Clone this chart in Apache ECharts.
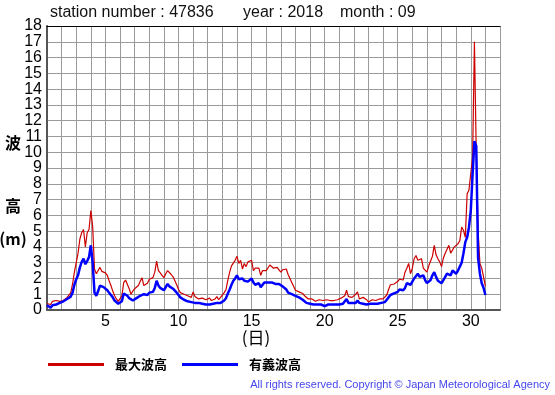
<!DOCTYPE html>
<html><head><meta charset="utf-8">
<script src="https://cdn.jsdelivr.net/npm/echarts@6/dist/echarts.min.js"></script>
<style>html,body{margin:0;padding:0;background:#fff}#c{width:555px;height:395px}</style>
</head><body><div id="c"></div>
<script>
const stationNumber = '47836';
const yearText = '2018';
const monthText = '09';
const seriesNames = ['最大波高', '有義波高'];
const startDay = 1;
const samplesPerDay = 8;
const xLabelDays = [5, 10, 15, 20, 25, 30];
const yTickLabels = ['0','1','2','3','4','5','6','7','8','9','10','11','12','13','14','15','16','17','18'];

// 最大波高 (m), 3-hourly from day 1 00h to day 31 00h
const maxWave = [
  0.40, 0.50, 0.35, 0.55, 0.45, 0.60, 0.50, 0.55,
  0.65, 0.60, 0.70, 0.80, 0.95, 1.10, 1.65, 2.40,
  3.00, 3.60, 4.50, 4.90, 5.10, 4.00, 4.90, 5.10,
  6.30, 5.30, 2.60, 2.30, 2.50, 2.70, 2.45, 2.35,
  2.35, 2.20, 1.85, 1.55, 1.20, 0.90, 0.70, 0.55,
  0.50, 0.90, 1.75, 1.90, 1.85, 1.35, 1.00, 1.20,
  1.35, 1.45, 1.55, 1.80, 2.05, 1.55, 1.60, 1.70,
  1.95, 1.90, 2.05, 2.40, 3.10, 2.50, 2.35, 2.20,
  2.05, 2.30, 2.50, 2.45, 2.25, 2.10, 1.85, 1.60,
  1.30, 1.10, 1.05, 1.00, 0.95, 0.90, 0.85, 0.80,
  1.15, 0.85, 0.75, 0.70, 0.65, 0.75, 0.70, 0.65,
  0.55, 0.75, 0.60, 0.55, 0.70, 0.85, 0.65, 0.80,
  0.95, 1.10, 1.30, 1.90, 2.40, 2.80, 2.90, 3.15,
  3.40, 2.95, 3.15, 2.60, 2.95, 2.75, 3.05, 3.10,
  3.15, 2.50, 2.65, 2.70, 2.65, 2.20, 2.50, 2.45,
  2.50, 2.55, 2.85, 2.95, 2.65, 2.75, 2.70, 2.55,
  2.40, 2.55, 2.45, 2.60, 2.25, 2.00, 1.75, 1.50,
  1.25, 1.20, 1.15, 1.10, 1.05, 0.90, 0.80, 0.70,
  0.60, 0.70, 0.75, 0.55, 0.50, 0.65, 0.70, 0.60,
  0.50, 0.65, 0.65, 0.60, 0.55, 0.60, 0.55, 0.65,
  0.65, 0.75, 0.75, 0.90, 1.25, 0.85, 0.75, 0.80,
  0.85, 1.00, 1.15, 0.70, 0.65, 0.80, 0.85, 0.65,
  0.50, 0.60, 0.65, 0.65, 0.60, 0.65, 0.70, 0.70,
  0.70, 0.80, 0.95, 1.30, 1.60, 1.70, 1.65, 1.60,
  1.80, 1.95, 2.00, 1.90, 2.40, 2.65, 2.95, 2.30,
  2.65, 3.25, 3.45, 3.15, 3.15, 3.25, 2.65, 2.55,
  2.40, 2.80, 3.10, 3.40, 4.10, 3.50, 3.25, 3.05,
  2.75, 3.30, 3.60, 3.85, 4.10, 3.60, 3.60, 4.00,
  4.10, 4.20, 4.40, 5.25, 5.05, 4.60, 7.35, 7.60,
  8.65, 9.70, 17.00, 10.00, 5.05, 2.95, 2.65, 2.10,
  1.50
];

// 有義波高 (m), same sampling
const sigWave = [
  0.30, 0.20, 0.15, 0.30, 0.40, 0.35, 0.40, 0.45,
  0.50, 0.55, 0.65, 0.70, 0.70, 0.85, 1.10, 1.60,
  1.95, 2.20, 2.70, 3.05, 3.25, 2.90, 3.10, 3.35,
  4.10, 3.00, 1.10, 0.90, 1.20, 1.55, 1.60, 1.45,
  1.35, 1.25, 1.10, 0.95, 0.80, 0.60, 0.50, 0.40,
  0.40, 0.55, 1.05, 1.10, 0.90, 0.75, 0.65, 0.60,
  0.60, 0.75, 0.85, 0.90, 0.95, 1.00, 0.90, 0.95,
  1.10, 1.10, 1.15, 1.40, 1.85, 1.55, 1.40, 1.30,
  1.25, 1.45, 1.65, 1.50, 1.45, 1.35, 1.25, 1.10,
  0.95, 0.80, 0.75, 0.65, 0.60, 0.55, 0.50, 0.50,
  0.50, 0.45, 0.50, 0.45, 0.40, 0.40, 0.35, 0.35,
  0.30, 0.35, 0.40, 0.40, 0.45, 0.45, 0.50, 0.45,
  0.50, 0.60, 0.75, 1.05, 1.30, 1.60, 1.85, 2.00,
  2.20, 1.95, 1.90, 2.00, 1.85, 1.75, 1.80, 1.90,
  2.00, 1.75, 1.60, 1.70, 1.70, 1.45, 1.55, 1.75,
  1.80, 1.75, 1.70, 1.75, 1.70, 1.65, 1.70, 1.65,
  1.60, 1.50, 1.40, 1.30, 1.10, 1.05, 1.00, 0.95,
  0.90, 0.85, 0.80, 0.75, 0.65, 0.55, 0.45, 0.45,
  0.40, 0.40, 0.35, 0.30, 0.35, 0.40, 0.35, 0.30,
  0.25, 0.30, 0.35, 0.30, 0.35, 0.40, 0.35, 0.40,
  0.35, 0.40, 0.40, 0.50, 0.70, 0.45, 0.40, 0.45,
  0.45, 0.45, 0.60, 0.45, 0.40, 0.40, 0.40, 0.35,
  0.35, 0.40, 0.40, 0.40, 0.40, 0.40, 0.40, 0.45,
  0.45, 0.50, 0.65, 0.80, 0.95, 1.00, 1.05, 1.10,
  1.15, 1.30, 1.35, 1.25, 1.40, 1.70, 1.65, 1.60,
  1.80, 2.00, 2.10, 2.30, 2.10, 2.15, 2.20, 1.90,
  1.70, 1.80, 1.90, 2.20, 2.40, 2.10, 1.85, 1.80,
  1.70, 1.90, 2.10, 2.30, 2.40, 2.20, 2.50, 2.40,
  2.30, 2.50, 2.75, 3.00, 3.60, 4.30, 4.60, 5.25,
  6.30, 8.60, 10.70, 10.40, 3.30, 2.30, 1.70, 1.40,
  0.95
];

const toPairs = arr => arr.map((v, i) => [startDay + i / samplesPerDay, v]);
const latin = '"Liberation Sans", Arial, sans-serif';
const cjk = '"Noto Sans CJK JP", sans-serif';

const chart = echarts.init(document.getElementById('c'), null, {renderer: 'canvas'});
chart.setOption({
  animation: false,
  backgroundColor: '#fff',
  grid: {left: 47, right: 55, top: 26, bottom: 85},
  legend: {
    data: seriesNames,
    left: 43, top: 353,
    icon: 'rect', itemWidth: 56, itemHeight: 3, itemGap: 15,
    textStyle: {fontFamily: cjk, fontSize: 13, fontWeight: 'bold', color: '#000', padding: [0, 0, 0, 6]}
  },
  xAxis: [{
    type: 'value', min: 1, max: 32, interval: 1,
    axisLine: {show: true, lineStyle: {color: '#555', width: 2}},
    axisTick: {show: false},
    axisLabel: {fontFamily: latin, fontSize: 16, color: '#000', margin: 4,
      formatter: v => xLabelDays.includes(v) ? String(v) : ''},
    splitLine: {show: true, lineStyle: {color: '#9a9a9a', width: 1}}
  }, {
    type: 'value', min: 1, max: 32, position: 'top',
    axisLine: {show: true, lineStyle: {color: '#000', width: 1}},
    axisTick: {show: false}, axisLabel: {show: false}, splitLine: {show: false}
  }],
  yAxis: [{
    type: 'value', min: 0, max: 18, interval: 1,
    axisLine: {show: true, lineStyle: {color: '#555', width: 2}},
    axisTick: {show: false},
    axisLabel: {show: false},
    splitLine: {show: true, lineStyle: {color: '#9a9a9a', width: 1}}
  }, {
    type: 'category', data: yTickLabels, boundaryGap: false, position: 'left',
    axisLine: {show: false}, axisTick: {show: false}, splitLine: {show: false},
    axisLabel: {interval: 0, fontFamily: latin, fontSize: 16, color: '#000', margin: 5}
  }],
  series: [{
    name: seriesNames[0], type: 'line', data: toPairs(maxWave),
    showSymbol: false, symbol: 'none', silent: true, z: 3,
    itemStyle: {color: '#cc0000'}, lineStyle: {color: '#cc0000', width: 1.2}
  }, {
    name: seriesNames[1], type: 'line', data: toPairs(sigWave),
    showSymbol: false, symbol: 'none', silent: true, z: 4,
    itemStyle: {color: '#0000ff'}, lineStyle: {color: '#0000ff', width: 2.5}
  }],
  graphic: [
    {type: 'text', left: 50, top: 5, style: {text: 'station number : ' + stationNumber, font: '16px ' + latin, fill: '#111'}},
    {type: 'text', left: 243, top: 5, style: {text: 'year : ' + yearText, font: '16px ' + latin, fill: '#111'}},
    {type: 'text', left: 340, top: 5, style: {text: 'month : ' + monthText, font: '16px ' + latin, fill: '#111'}},
    {type: 'text', x: 13, y: 143, style: {text: '波', font: 'bold 16px ' + cjk, fill: '#000', align: 'center', verticalAlign: 'middle'}},
    {type: 'text', x: 13, y: 206, style: {text: '高', font: 'bold 16px ' + cjk, fill: '#000', align: 'center', verticalAlign: 'middle'}},
    {type: 'text', x: 13, y: 239, style: {text: '(m)', font: 'bold 16px ' + cjk, fill: '#000', align: 'center', verticalAlign: 'middle'}},
    {type: 'text', x: 256, y: 338, style: {text: '(日)', font: '17px ' + cjk, fill: '#000', align: 'center', verticalAlign: 'middle'}},
    {type: 'text', x: 550, y: 385, style: {text: 'All rights reserved. Copyright © Japan Meteorological Agency', font: '11px ' + latin, fill: '#4646ee', align: 'right', verticalAlign: 'middle'}}
  ]
});
</script></body></html>
